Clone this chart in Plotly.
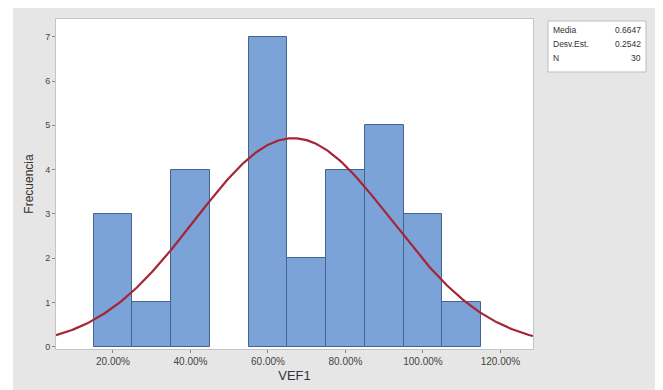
import numpy as np
import plotly.graph_objects as go

# Data
bin_centers = [0.2, 0.3, 0.4, 0.5, 0.6, 0.7, 0.8, 0.9, 1.0, 1.1]
counts = [3, 1, 4, 0, 7, 2, 4, 5, 3, 1]
bin_width = 0.1
mean_val = 0.6647
sd_val = 0.2542
n_val = 30
x_tick_vals = [0.2, 0.4, 0.6, 0.8, 1.0, 1.2]
x_tick_text = ["20.00%", "40.00%", "60.00%", "80.00%", "100.00%", "120.00%"]
y_tick_vals = [0, 1, 2, 3, 4, 5, 6, 7]
stats_labels = ["Media", "Desv.Est.", "N"]
stats_values = ["0.6647", "0.2542", "30"]

x_range = [0.053, 1.284]
xs = np.linspace(x_range[0], x_range[1], 300)
pdf = n_val * bin_width / (sd_val * np.sqrt(2 * np.pi)) * np.exp(-0.5 * ((xs - mean_val) / sd_val) ** 2)

bx = [c for c, n in zip(bin_centers, counts) if n > 0]
by = [n for n in counts if n > 0]

fig = go.Figure()
fig.add_trace(go.Bar(
    x=bx, y=by, width=bin_width,
    marker=dict(color="#7ba3d8", line=dict(color="#44648e", width=1)),
    showlegend=False, hoverinfo="x+y",
))
fig.add_trace(go.Scatter(
    x=xs, y=pdf, mode="lines",
    line=dict(color="#a62436", width=2.2),
    showlegend=False, hoverinfo="skip",
))

OFF = 8  # page body margin
W, H = 663 - OFF, 390 - OFF
L, T = 56 - OFF, 19 - OFF
R = W - (533 - OFF)
B = H - (349 - OFF)
pw, ph = W - L - R, H - T - B

def px_x(p):  # page pixel -> paper x
    return (p - OFF - L) / pw

def px_y(p):  # page pixel -> paper y
    return (H + OFF - B - p) / ph

shapes = [
    dict(type="rect", xref="paper", yref="paper", x0=px_x(0), x1=px_x(13), y0=px_y(400), y1=px_y(0),
         fillcolor="white", line=dict(width=0), layer="above"),
    dict(type="rect", xref="paper", yref="paper", x0=px_x(656), x1=px_x(670), y0=px_y(400), y1=px_y(0),
         fillcolor="white", line=dict(width=0), layer="above"),
    dict(type="rect", xref="paper", yref="paper", x0=px_x(548), x1=px_x(646), y0=px_y(72), y1=px_y(21),
         fillcolor="white", line=dict(color="#bdbdbd", width=1), layer="above"),
]

annotations = []
row_y = [30, 44, 58]
for lab, val, yy in zip(stats_labels, stats_values, row_y):
    annotations.append(dict(xref="paper", yref="paper", x=px_x(551), y=px_y(yy), text=lab,
                            showarrow=False, xanchor="left", yanchor="middle",
                            font=dict(size=8.5, color="#333333", family="Liberation Sans, Arial")))
    annotations.append(dict(xref="paper", yref="paper", x=px_x(643), y=px_y(yy), text=val,
                            showarrow=False, xanchor="right", yanchor="middle",
                            font=dict(size=8.5, color="#333333", family="Liberation Sans, Arial")))

fig.update_layout(
    width=W, height=H,
    margin=dict(l=L, r=R, t=T, b=B, autoexpand=False),
    paper_bgcolor="#e6e6e6",
    plot_bgcolor="white",
    bargap=0,
    shapes=shapes,
    annotations=annotations,
    font=dict(family="Liberation Sans, Arial", color="#333333"),
)
fig.update_xaxes(
    range=x_range, tickvals=x_tick_vals, ticktext=x_tick_text, automargin=False,
    showgrid=False, zeroline=False,
    showline=True, linecolor="#c4c4c4", linewidth=1, mirror=True,
    ticks="outside", ticklen=3, tickcolor="#888888",
    tickfont=dict(size=10, color="#444444"),
    title=dict(text="VEF1", font=dict(size=13, color="#333333"), standoff=4),
)
fig.update_yaxes(
    range=[-0.05, 7.4], tickvals=y_tick_vals, automargin=False,
    showgrid=False, zeroline=False,
    showline=True, linecolor="#c4c4c4", linewidth=1, mirror=True,
    ticks="outside", ticklen=3, tickcolor="#888888",
    tickfont=dict(size=9, color="#444444"),
    title=dict(text="Frecuencia", font=dict(size=12, color="#333333"), standoff=8),
)

fig.write_html("out.html")
